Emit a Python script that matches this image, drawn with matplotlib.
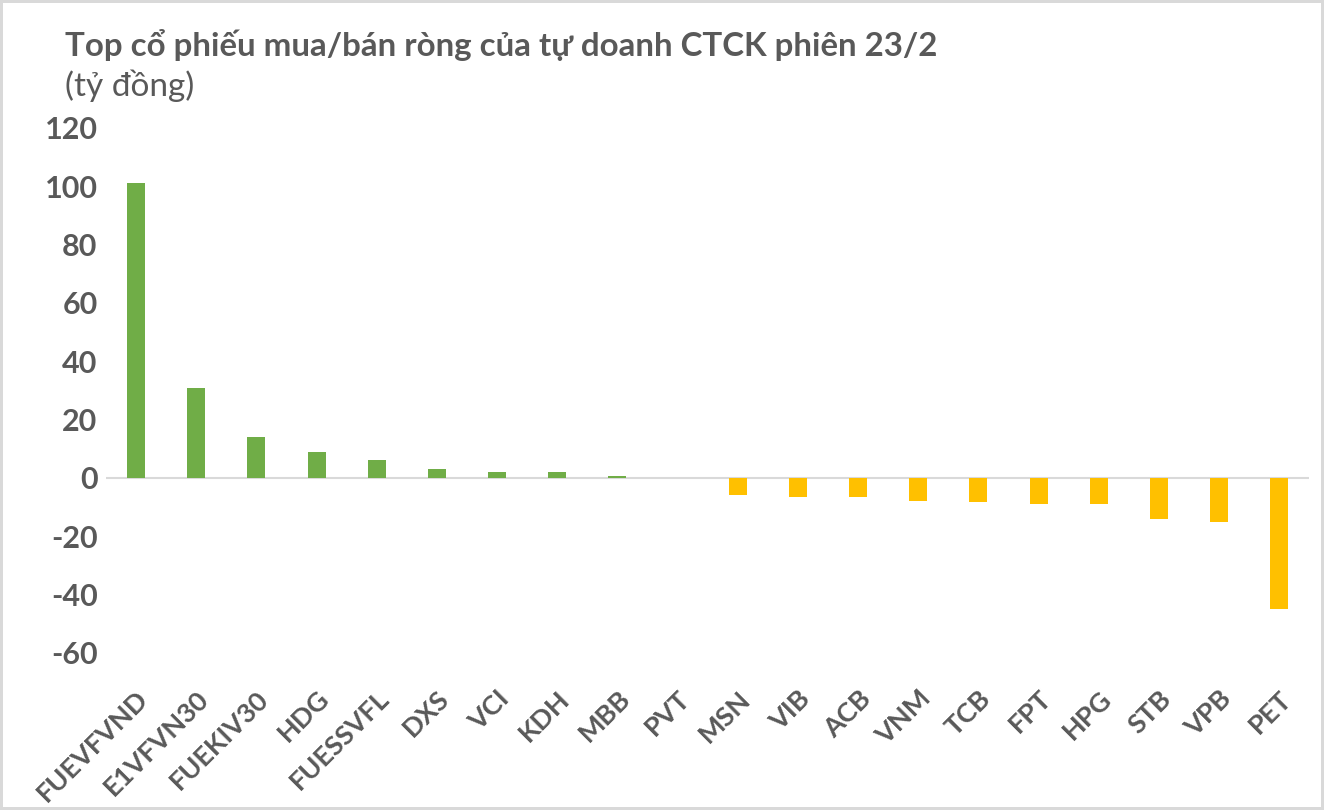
import matplotlib.pyplot as plt

plt.rcParams['font.family'] = ['Lato', 'Noto Sans', 'DejaVu Sans']

# dữ liệu (tỷ đồng)
tickers = ['FUEVFVND', 'E1VFVN30', 'FUEKIV30', 'HDG', 'FUESSVFL', 'DXS', 'VCI',
           'KDH', 'MBB', 'PVT', 'MSN', 'VIB', 'ACB', 'VNM', 'TCB', 'FPT', 'HPG',
           'STB', 'VPB', 'PET']
net_values = [101.2, 31.0, 14.0, 8.8, 6.0, 3.0, 2.0, 2.0, 0.5, 0.0,
              -6.0, -6.4, -6.4, -7.8, -8.4, -8.8, -8.8, -14.0, -15.0, -45.0]
y_ticks = [-60, -40, -20, 0, 20, 40, 60, 80, 100, 120]

title = 'Top cổ phiếu mua/bán ròng của tự doanh CTCK phiên 23/2'
unit = '(tỷ đồng)'

text_color = '#595959'
colors = ['#70AD47' if v >= 0 else '#FFC000' for v in net_values]

fig = plt.figure(figsize=(13.24, 8.10), dpi=100)
fig.patch.set_edgecolor('#d9d9d9')
fig.patch.set_linewidth(3)
ax = fig.add_axes([0.080, 0.194, 0.909, 0.648])

x = range(len(tickers))
ax.bar(x, net_values, width=0.3, color=colors, zorder=2)
ax.axhline(0, color='#d9d9d9', linewidth=1.5, zorder=1)

ax.set_xlim(-0.5, len(tickers) - 0.5)
ax.set_ylim(-60, 120)
ax.set_yticks(y_ticks)
ax.set_yticklabels([str(t) for t in y_ticks], fontsize=22, fontweight='bold',
                   color=text_color)
ax.set_xticks(list(x))
ax.set_xticklabels(tickers, rotation=45, ha='right', rotation_mode='anchor',
                   fontsize=19.5, fontweight='bold', color=text_color)
ax.tick_params(axis='both', length=0)
ax.tick_params(axis='x', pad=24)
ax.tick_params(axis='y', pad=6)
for s in ax.spines.values():
    s.set_visible(False)

fig.text(65 / 1324, 1 - 45 / 810, title, fontsize=23.8, fontweight='bold',
         color=text_color, va='center', ha='left')
fig.text(65 / 1324, 1 - 86 / 810, unit, fontsize=24, color=text_color,
         va='center', ha='left')

fig.savefig('out.png', dpi=100)
